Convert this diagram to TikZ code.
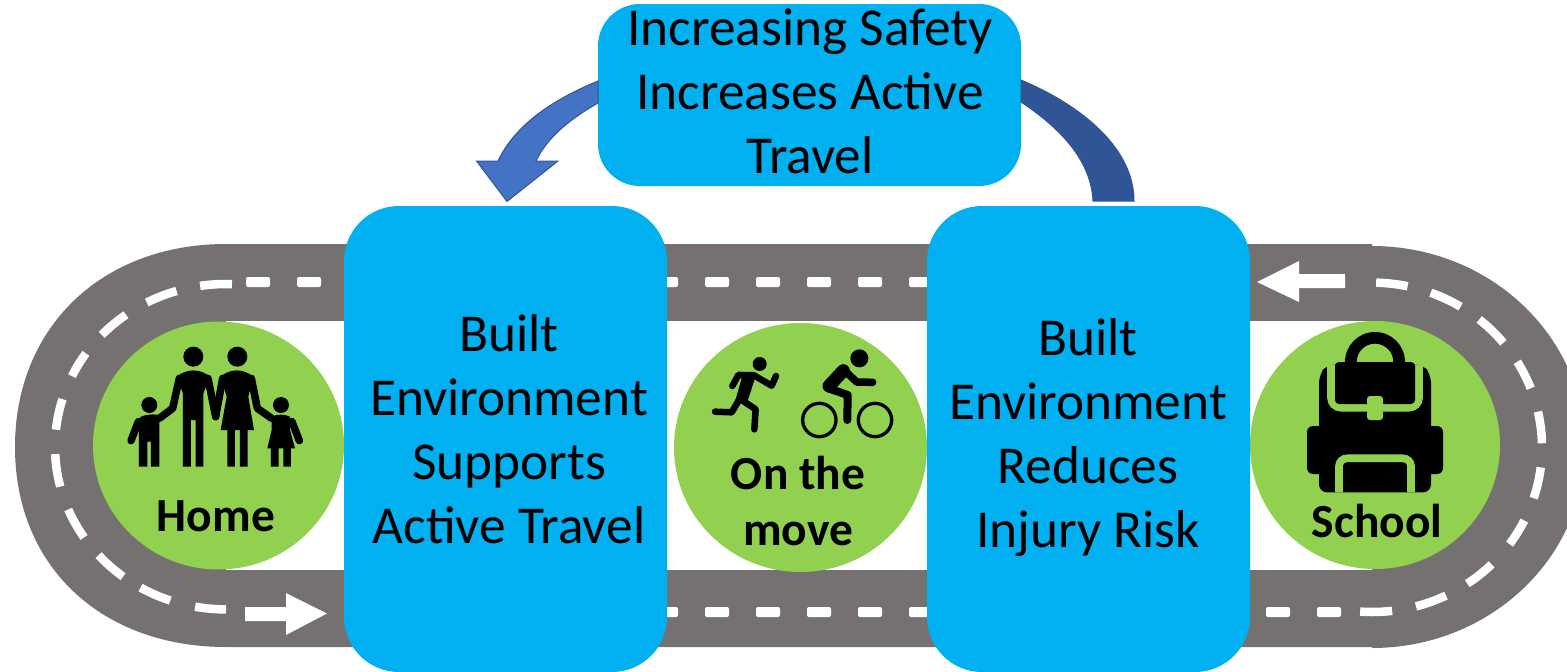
\documentclass[tikz,border=0pt]{standalone}
\usepackage{fontspec}
\setmainfont{Carlito}
\definecolor{roadc}{HTML}{767171}
\definecolor{boxc}{HTML}{00B0F0}
\definecolor{greenc}{HTML}{92D050}
\definecolor{arrl}{HTML}{4472C4}
\definecolor{arrr}{HTML}{2F5597}
\definecolor{arre}{HTML}{2F5597}
\tikzset{
  bluebox/.style={fill=boxc,draw=none,rounded corners=#1},
  blabel/.style={anchor=base,align=center,font=\fontsize{53.3}{64}\selectfont,inner sep=0pt},
  glabel/.style={anchor=base,align=center,font=\fontsize{47.5}{56}\selectfont\bfseries,inner sep=0pt},
  dashm/.style={draw=white,line width=8.5pt},
  dashs/.style={fill=white,rounded corners=2pt},
  ic/.style={fill=black,draw=none},
  limb/.style={draw=black,line width=#1pt,line cap=round,line join=round},
}
\begin{document}
\begin{tikzpicture}[x=1pt,y=-1pt]
\useasboundingbox (0,0) rectangle (1567,672);
\clip (0,0) rectangle (1567,672);
% road
\fill[roadc] (226,244) -- (1372,244) -- (1372,246)
  arc[start angle=90,end angle=-90,x radius=213pt,y radius=201pt]
  -- (1372,647) -- (226,647)
  .. controls (102,647) and (15,567) .. (15,447)
  .. controls (15,327) and (102,244) .. (226,244) -- cycle;
\fill[white] (226,321) rectangle (1372,570);
% straight dashes
\foreach \x in {246,297,654,705,756,807,858,909} \fill[dashs] (\x,277) rectangle ++(24,10);
\foreach \x in {654,705,756,807,858,909,1266,1317} \fill[dashs] (\x,607) rectangle ++(24,10);
% curved dashes left
\foreach \a/\b in {98.7/88,117.6/106.8,136.6/125.8,154.3/145,174/163,182.6/194.2,202.7/213.9,221.8/233,240/251,259.6/270}
  \draw[dashm] ({226+171*cos(\a)},{446.7-162.7*sin(\a)}) arc[start angle=\a,end angle=\b,x radius=171pt,y radius=162.7pt];
% curved dashes right
\foreach \a/\b in {88.6/77.9,69.8/58.6,50.9/39.4,31.3/21,12.5/1.4,-7/-18,-26.4/-36,-45.3/-55.9,-64.2/-75,-83.2/-94}
  \draw[dashm] ({1372+170*cos(\a)},{447.3-164.7*sin(\a)}) arc[start angle=\a,end angle=\b,x radius=170pt,y radius=164.7pt];
% road arrows
\fill[white] (245,607) -- (286,607) -- (286,593) -- (327,613.5) -- (286,635) -- (286,621) -- (245,621) -- cycle;
\fill[white] (1345,274) -- (1299,274) -- (1299,261) -- (1257,282) -- (1299,302) -- (1299,288) -- (1345,288) -- cycle;
% green circles
\fill[greenc] (218.5,445.5) ellipse[x radius=125.5pt,y radius=124pt];
\fill[greenc] (800.5,447.5) ellipse[x radius=126.5pt,y radius=124.5pt];
\fill[greenc] (1375,445) ellipse[x radius=125pt,y radius=124pt];
% blue boxes
\path[bluebox=55pt] (344,206) rectangle (667,672);
\path[bluebox=55pt] (927,206) rectangle (1250,672);
\path[bluebox=42pt] (598,4) rectangle (1021,186);
% block arrows
\path[fill=arrl,draw=arre,line width=1pt] (598,81) .. controls (552,100) and (515,125) .. (498,161)
  -- (476.5,161) -- (507,201.5) -- (558,161) -- (536,161) .. controls (548,136) and (572,118) .. (598,103) -- cycle;
\path[fill=arrr,draw=arre,line width=1pt] (1021,80) .. controls (1085,107) and (1134,150) .. (1134,201)
  -- (1093,201) .. controls (1091,160) and (1060,128) .. (1021,102) -- cycle;
% box texts
\node[blabel] (top) at (810,173) {Increasing Safety\\Increases Active\\Travel};
\node[blabel] (l1) at (509,543) {Built\\Environment\\Supports\\Active Travel};
\node[blabel] (r1) at (1088,547) {Built\\Environment\\Reduces\\Injury Risk};
\node[glabel] (home) at (216,531) {Home};
\node[glabel] (school) at (1377,537) {School};
\node[glabel] (move) at (798,545) {On the\\move};
% family
\begin{scope}[shift={(0,230)},scale=1/3]
 \fill[ic] (580,380) circle[radius=30] (712,380) circle[radius=30] (448,525) circle[radius=24] (843,525) circle[radius=24];
 % father
 \fill[ic] (549,710) -- (573,710) -- (573,570) -- (587,570) -- (587,710) -- (610,710) -- (610,490) -- (630,440) .. controls (600,415) and (560,415) .. (530,440) -- (549,490) -- cycle;
 \draw[limb=7.5] (538,445) -- (518,535) -- (478,565);
 \draw[limb=7.5] (624,445) -- (647,560);
 % mother
 \fill[ic] (682,710) -- (705,710) -- (705,600) -- (720,600) -- (720,710) -- (743,710) -- (743,600) -- (762,600) -- (745,500) -- (760,440) .. controls (730,415) and (690,415) .. (662,440) -- (680,500) -- (662,600) -- (682,600) -- cycle;
 \draw[limb=7.5] (668,445) -- (647,560);
 \draw[limb=7.5] (754,445) -- (772,535) -- (815,565);
 % boy
 \fill[ic] (417,710) -- (442,710) -- (442,635) -- (453,635) -- (453,710) -- (478,710) -- (478,555) .. controls (460,552) and (430,552) .. (417,565) -- cycle;
 \draw[limb=7.5] (415,575) -- (393,632);
 % girl
 \fill[ic] (813,710) -- (836,710) -- (836,655) -- (850,655) -- (850,710) -- (873,710) -- (873,655) -- (885,655) -- (870,600) -- (870,560) .. controls (855,552) and (830,552) .. (815,560) -- (815,600) -- (802,655) -- (813,655) -- cycle;
 \draw[limb=7.5] (876,575) -- (898,632);
\end{scope}
% backpack
\begin{scope}[shift={(1240,230)},scale=1/3]
 \fill[ic] (315,400) -- (315,396) arc[start angle=180,end angle=0,radius=90pt] -- (495,400) -- (460,400) -- (460,396) arc[start angle=0,end angle=180,radius=55pt] -- (350,400) -- cycle;
 \fill[ic,rounded corners=8pt] (237,700) -- (237,435) -- (262,403) -- (549,403) -- (573,435) -- (573,787) -- (237,787) -- cycle;
 \fill[ic,rounded corners=6pt] (201,588) rectangle (609,732);
 \draw[greenc,line width=7.7pt,rounded corners=10pt] (273,403) -- (273,533) -- (537,533) -- (537,403);
 \fill[ic,rounded corners=4pt] (285,396) -- (525,396) -- (525,522) -- (285,522) -- cycle;
 \fill[greenc,rounded corners=3pt] (381,498) rectangle (429,570);
 \draw[greenc,line width=7.7pt,rounded corners=8pt] (297,787) -- (297,685) -- (513,685) -- (513,787);
\end{scope}
% runner and cyclist
\begin{scope}[shift={(660,320)},scale=1/3]
 \fill[ic] (299,132) circle[radius=21];
 \fill[ic] (235,155) -- (285,158) -- (285,175) -- (262,245) -- (225,245) -- (245,175) -- cycle;
 \draw[limb=6.5] (217,198) -- (235,165) -- (280,165) -- (335,197) -- (348,168);
 \draw[limb=6.5] (240,235) -- (215,277) -- (165,275);
 \draw[limb=6.5] (245,240) -- (287,268) -- (283,328);
 \fill[ic] (598,115) circle[radius=27];
 \draw[limb=13] (507,198) -- (550,152);
 \draw[limb=7.5] (552,150) -- (590,186) -- (638,187);
 \draw[limb=8] (505,205) -- (563,225) -- (562,300);
 \draw[black,line width=3.3pt] (478,300) circle[radius=50] (645,300) circle[radius=50];
\end{scope}
\end{tikzpicture}
\end{document}
